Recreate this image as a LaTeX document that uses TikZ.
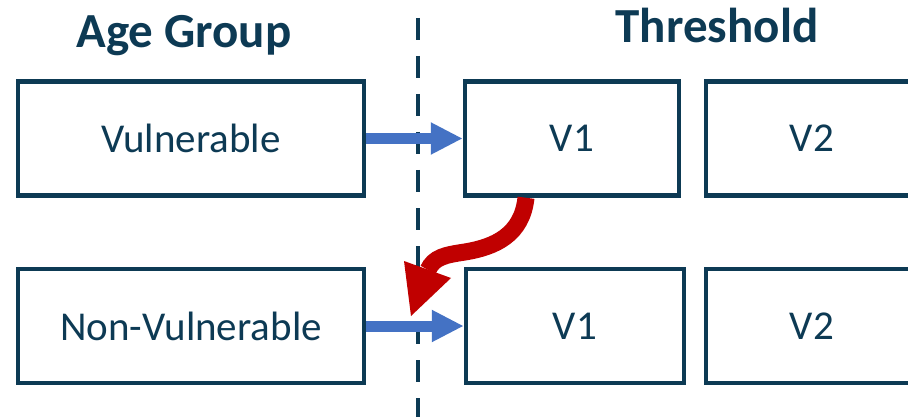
\documentclass[tikz,border=0pt]{standalone}
\usepackage{fontspec}
\setmainfont{Carlito}
\usetikzlibrary{arrows.meta}
\definecolor{navy}{HTML}{0D3A54}
\definecolor{arrowblue}{HTML}{4472C4}
\definecolor{arrowred}{HTML}{C00000}
\begin{document}
\begin{tikzpicture}[x=1pt,y=-1pt,
  box/.style={draw=navy, line width=4.5pt, minimum height=114pt, inner sep=0pt,
    text=navy, font=\fontsize{41}{49}\selectfont},
  heading/.style={text=navy, font=\bfseries\fontsize{49}{58}\selectfont, anchor=base, inner sep=0pt},
  bluearrow/.style={draw=arrowblue, line width=11pt, -{Triangle[length=32pt,width=30pt]}},
  divider/.style={draw=navy, line width=4.5pt, dash pattern=on 22pt off 16pt},
  redshaft/.style={draw=arrowred, line width=17pt},
  redhead/.style={fill=arrowred}]
\clip (0,0) rectangle (908,417);
\fill[white] (0,0) rectangle (908,417);
% headings
\node[heading] (hage) at (184,48) {Age Group};
\node[heading] (hthr) at (717,43) {Threshold};
% divider
\coordinate (dtop) at (418,18);
\coordinate (dbot) at (418,430);
\draw[divider] (dtop) -- (dbot);
% boxes
\node[box, minimum width=346pt] (vul) at (191,138.5) {Vulnerable};
\node[box, minimum width=346pt] (nvul) at (191,326) {Non-Vulnerable};
\node[box, minimum width=214pt] (v1a) at (572,138.5) {V1};
\node[box, minimum width=218pt] (v1b) at (575,326) {V1};
\node[box, minimum width=212pt] (v2a) at (812,138.5) {V2};
\node[box, minimum width=212pt] (v2b) at (812,326) {V2};
% blue arrows
\draw[bluearrow] (vul.east) -- (v1a.west);
\draw[bluearrow] (nvul.east) -- (v1b.west);
% red curved arrow
\coordinate (rstart) at ([xshift=-46pt]v1a.south);
\coordinate (rend) at (428,270);
\coordinate (hl) at (404,261);
\coordinate (hr) at (451,278);
\coordinate (htip) at (411,316);
\draw[redshaft] (rstart) .. controls (522,235) and (495,247) .. (465,252)
  .. controls (445,255) and (434,257) .. (rend);
\fill[redhead] (hl) -- (hr) -- (htip) -- cycle;
\end{tikzpicture}
\end{document}
